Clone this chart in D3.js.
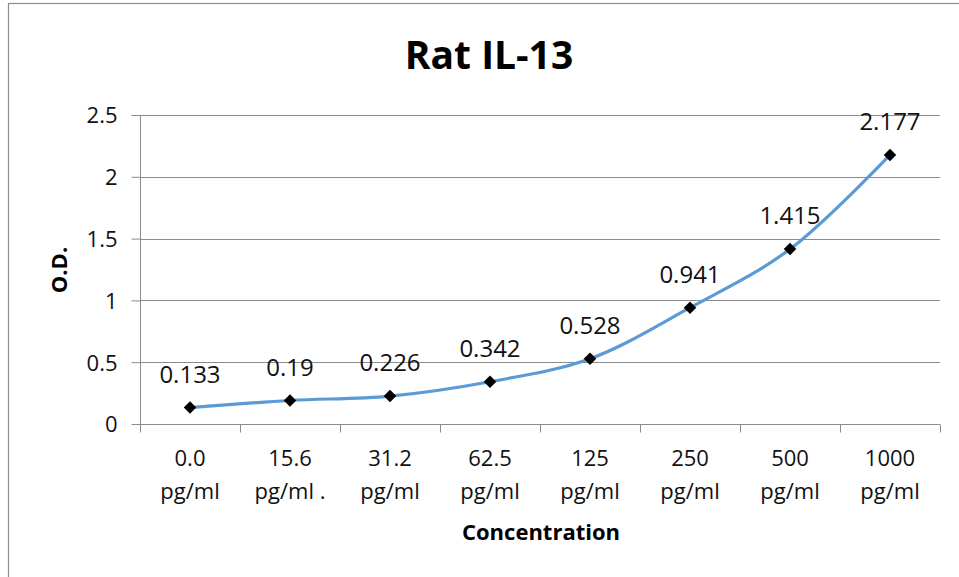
<!DOCTYPE html>
<html><head><meta charset="utf-8">
<script src="https://cdn.jsdelivr.net/npm/d3@7"></script>
<style>body{margin:0;background:#fff}svg{display:block}</style>
</head><body>
<script>
const categories = [["0.0","pg/ml"],["15.6","pg/ml ."],["31.2","pg/ml"],["62.5","pg/ml"],["125","pg/ml"],["250","pg/ml"],["500","pg/ml"],["1000","pg/ml"]];
const values = [0.133, 0.19, 0.226, 0.342, 0.528, 0.941, 1.415, 2.177];
const valueLabels = ["0.133","0.19","0.226","0.342","0.528","0.941","1.415","2.177"];
const yTicks = [0, 0.5, 1, 1.5, 2, 2.5];
const yTickLabels = ["0","0.5","1","1.5","2","2.5"];

const W = 959, H = 577;
const svg = d3.select("body").append("svg").attr("width", W).attr("height", H);
const font = "'Open Sans', sans-serif";

svg.append("rect").attr("x", 8.5).attr("y", 3.5).attr("width", 1000).attr("height", 1000)
  .attr("fill", "#fff").attr("stroke", "#8c8c8c").attr("stroke-width", 1.2);

const x = d3.scaleBand().domain(d3.range(categories.length)).range([140, 940]);
const y = d3.scaleLinear().domain([0, 2.5]).range([424, 115]);

// gridlines
svg.append("g").selectAll("line").data(yTicks.slice(1)).join("line")
  .attr("x1", 140).attr("x2", 940).attr("y1", d => Math.round(y(d)) + 0.5).attr("y2", d => Math.round(y(d)) + 0.5)
  .attr("stroke", "#8c8c8c").attr("stroke-width", 1);

// y axis
const yAxis = svg.append("g").attr("transform", "translate(140.5,0)")
  .call(d3.axisLeft(y).tickValues(yTicks).tickSize(9).tickFormat((d, i) => yTickLabels[i]));
yAxis.select(".domain").attr("stroke", "#8c8c8c").attr("d", `M-9,${y(2.5)+0.5}H0V${y(0)+0.5}`);
yAxis.selectAll(".tick line").attr("stroke", "#8c8c8c");
yAxis.selectAll(".tick text").attr("font-family", font).attr("font-size", 22).attr("fill", "#111").attr("x", -23).attr("dy", "0.36em");

// x axis
const xAxisG = svg.append("g").attr("transform", "translate(0,424.5)");
xAxisG.append("line").attr("x1", 140).attr("x2", 940).attr("stroke", "#8c8c8c");
const bounds = d3.range(categories.length + 1).map(i => i < categories.length ? x(i) : x(categories.length - 1) + x.bandwidth());
xAxisG.selectAll("line.tk").data(bounds).join("line").attr("class", "tk")
  .attr("x1", d => d + 0.5).attr("x2", d => d + 0.5).attr("y1", 0).attr("y2", 8).attr("stroke", "#8c8c8c");
const catText = svg.append("g").selectAll("text").data(categories).join("text")
  .attr("x", (d, i) => x(i) + x.bandwidth() / 2).attr("y", 466)
  .attr("text-anchor", "middle").attr("font-family", font).attr("font-size", 22).attr("fill", "#111");
catText.append("tspan").attr("x", (d, i) => x(i) + x.bandwidth() / 2).text(d => d[0]);
catText.append("tspan").attr("x", (d, i) => x(i) + x.bandwidth() / 2).attr("dy", 33).text(d => d[1]);

// line
const line = d3.line().x((d, i) => x(i) + x.bandwidth() / 2).y(d => y(d)).curve(d3.curveCatmullRom.alpha(0.5));
svg.append("path").datum(values).attr("d", line).attr("fill", "none")
  .attr("stroke", "#5b9bd5").attr("stroke-width", 3.2).attr("stroke-linejoin", "round");

// markers
svg.append("g").selectAll("path").data(values).join("path")
  .attr("transform", (d, i) => `translate(${x(i) + x.bandwidth() / 2},${y(d)})`)
  .attr("d", d3.symbol().type(d3.symbolDiamond2).size(100)).attr("fill", "#000");

// data labels
svg.append("g").selectAll("text").data(values).join("text")
  .attr("x", (d, i) => x(i) + x.bandwidth() / 2).attr("y", d => y(d) - 25)
  .attr("text-anchor", "middle").attr("font-family", font).attr("font-size", 24).attr("fill", "#111")
  .text((d, i) => valueLabels[i]);

// titles
svg.append("text").attr("x", 489).attr("y", 69).attr("text-anchor", "middle")
  .attr("font-family", font).attr("font-weight", "bold").attr("font-size", 39).attr("fill", "#000").text("Rat IL-13");
svg.append("text").attr("x", 541).attr("y", 540).attr("text-anchor", "middle")
  .attr("font-family", font).attr("font-weight", "bold").attr("font-size", 22).attr("fill", "#000").text("Concentration");
svg.append("text").attr("transform", "translate(67,270) rotate(-90)").attr("text-anchor", "middle")
  .attr("font-family", font).attr("font-weight", "bold").attr("font-size", 22).attr("fill", "#000").text("O.D.");
</script>
</body></html>
